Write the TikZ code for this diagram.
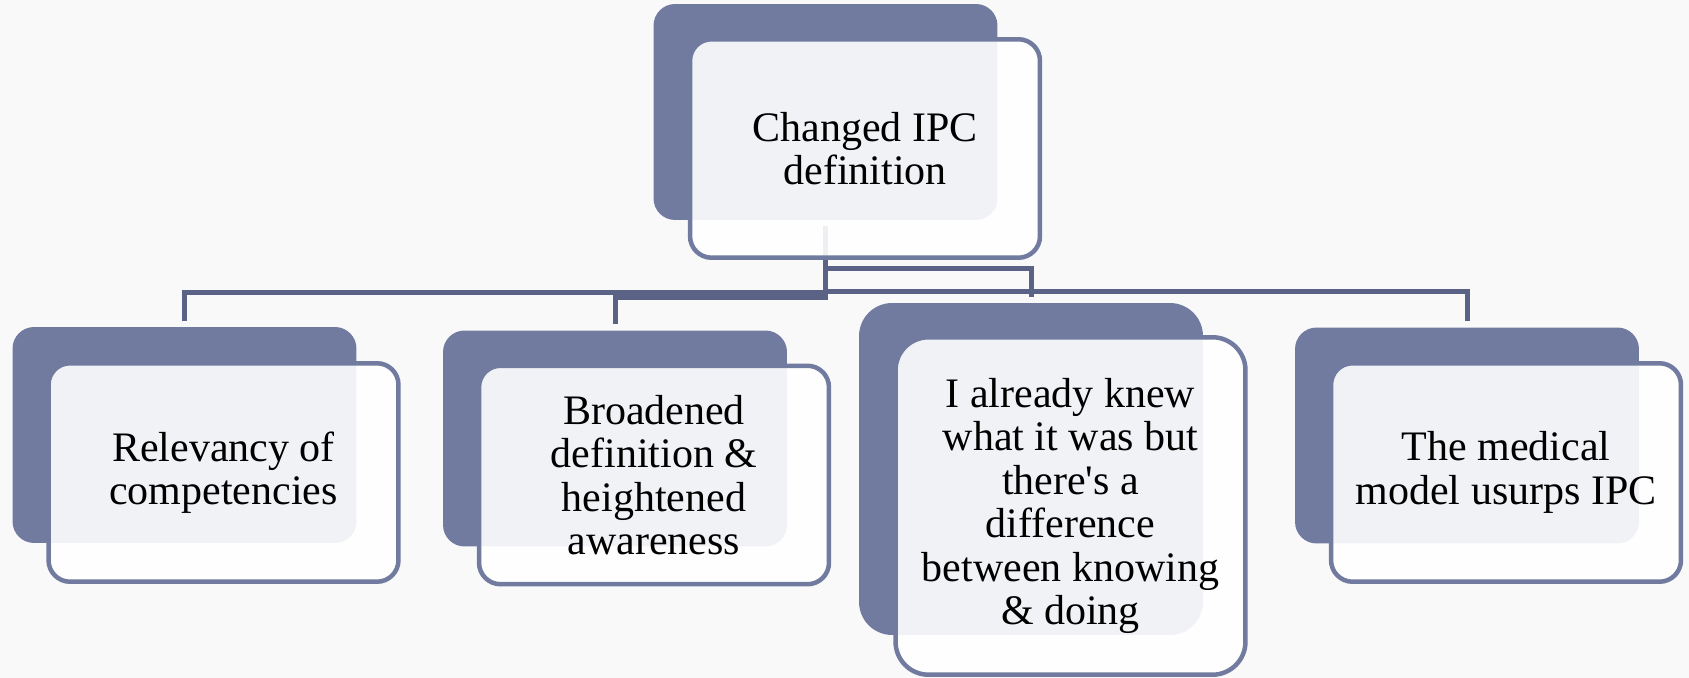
\documentclass[tikz,border=0pt]{standalone}
\usepackage{fontspec}
\setmainfont{Liberation Serif}

\definecolor{boxblue}{HTML}{717BA0}
\definecolor{linkblue}{HTML}{5A6385}
\definecolor{pagegray}{HTML}{F9F9FA}

\begin{document}
\begin{tikzpicture}[x=0.02cm, y=-0.02cm,
  backbox/.style={fill=boxblue, rounded corners=0.43cm, inner sep=0pt,
    minimum width=6.88cm, minimum height=4.32cm},
  frontbox/.style={draw=boxblue, line width=0.09cm, fill=white,
    fill opacity=0.9, text opacity=1, rounded corners=0.43cm, inner sep=0pt,
    minimum width=7.0cm, minimum height=4.37cm, align=center,
    font=\fontsize{23.9pt}{24.75pt}\selectfont},
  link/.style={draw=linkblue, line width=0.1cm}]

  \useasboundingbox (0,0) rectangle (1689,678);
  \fill[pagegray] (0,0) rectangle (1689,678);

  % ================================================================
  % Back boxes (dark)
  % ================================================================

  \node[backbox] (rb) at (825.5,112) {};
  \node[backbox] (b1) at (184.5,435) {};
  \node[backbox] (b2) at (615,438.5) {};
  \node[backbox, rounded corners=0.66cm, minimum height=6.64cm]
    (b3) at (1031,469) {};
  \node[backbox] (b4) at (1467,435.5) {};

  % ================================================================
  % Connectors (root -> children)
  % ================================================================

  \coordinate (bar1) at (0,292.5);
  \coordinate (bar2) at (0,298);
  \coordinate (bar3) at (0,268.5);
  \coordinate (bar4) at (0,291.5);

  \draw[link] ([yshift=-0.12cm]rb.south) -- (rb.south |- bar1)
    -| ([yshift=0.11cm]b1.north);
  \draw[link] ([yshift=-0.12cm]rb.south) -- (rb.south |- bar2)
    -| ([yshift=0.12cm]b2.north);
  \draw[link] ([yshift=-0.12cm]rb.south) -- (rb.south |- bar3)
    -| ([yshift=0.12cm]b3.north);
  \draw[link] ([yshift=-0.12cm]rb.south) -- (rb.south |- bar4)
    -| ([yshift=0.12cm]b4.north);

  % ================================================================
  % Front boxes (text)
  % ================================================================

  \node[frontbox] (rf) at (865,148.5)
    {Changed IPC\\definition};
  \node[frontbox] (f1) at (223.5,472.5)
    {Relevancy of\\competencies};
  \node[frontbox] (f2) at (654,475)
    {Broadened\\definition \&\\heightened\\awareness};
  \node[frontbox, rounded corners=0.66cm, minimum height=6.75cm]
    (f3) at (1070.5,506)
    {I already knew\\what it was but\\there\textquotesingle s a\\difference\\between knowing\\\& doing};
  \node[frontbox] (f4) at (1506,472.5)
    {The medical\\model usurps IPC};

\end{tikzpicture}
\end{document}
